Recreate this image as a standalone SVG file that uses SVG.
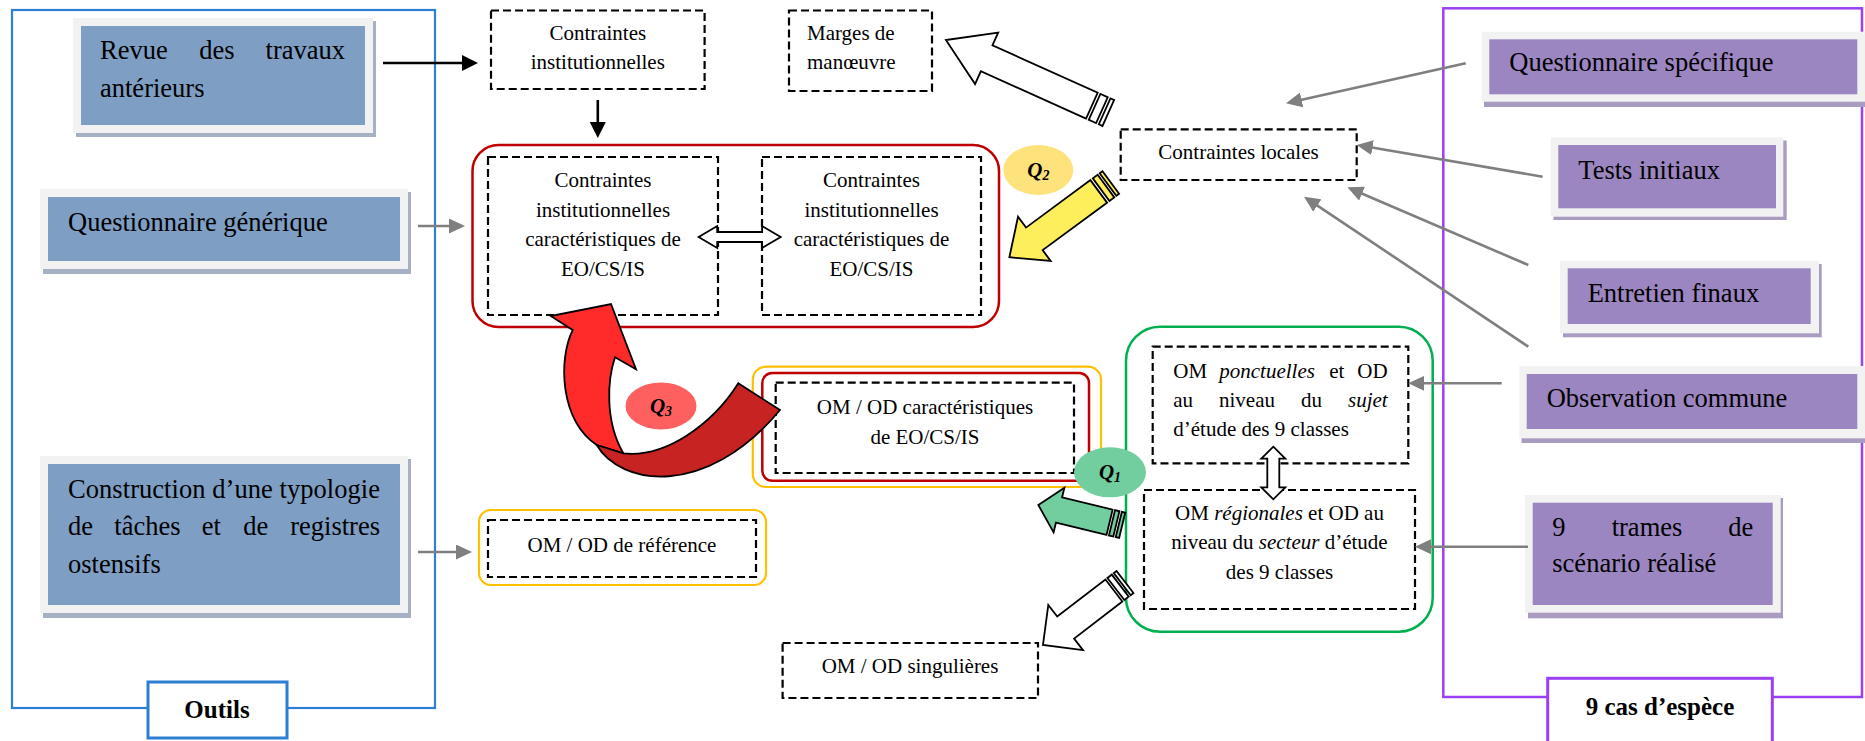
<svg xmlns="http://www.w3.org/2000/svg" width="1865" height="741" viewBox="0 0 1865 741">
<style>
.t{font-family:"Liberation Serif","Times New Roman",serif;fill:#000}
.big{font-size:26.5px}
.sm{font-size:21px}
.bold{font-weight:bold}
.q{font-family:"Liberation Serif","Times New Roman",serif;font-size:21px;font-weight:bold;font-style:italic}
.dash{fill:none;stroke:#000;stroke-width:2.2;stroke-dasharray:8 4}
.blue{fill:#7e9ec4}.purp{fill:#9c86c1}.light{fill:#f2f2f2}.bsh{fill:#a6b2c4}.psh{fill:#aa9cc0}
.ga{stroke:#7f7f7f;stroke-width:2.6;fill:none}
.ba{stroke:#000;stroke-width:2.6;fill:none}
.ol{stroke:#000;stroke-width:1.8;stroke-linejoin:miter}
</style>
<defs>
<marker id="mg" viewBox="0 0 16 15" refX="8" refY="7.5" markerWidth="16" markerHeight="15" markerUnits="userSpaceOnUse" orient="auto"><path d="M0,0 L16,7.5 L0,15 Z" fill="#7f7f7f"/></marker>
<marker id="mb" viewBox="0 0 16 16" refX="8" refY="8" markerWidth="16" markerHeight="16" markerUnits="userSpaceOnUse" orient="auto"><path d="M0,0 L16,8 L0,16 Z" fill="#000"/></marker>
</defs>

<g id="outils-frame">
<rect x="12" y="10" width="423" height="698" fill="none" stroke="#2e7ed3" stroke-width="2.2"/>
<rect x="148" y="682" width="139" height="56" fill="#fff" stroke="#2e7ed3" stroke-width="3"/>
<text class="t bold" x="217" y="718" font-size="25" text-anchor="middle">Outils</text>
</g>

<g id="cas-frame">
<rect x="1443.3" y="8.3" width="418.7" height="688.7" fill="none" stroke="#9b3ff6" stroke-width="2.5"/>
<rect x="1547.7" y="678.3" width="224.6" height="70" fill="#fff" stroke="#9b3ff6" stroke-width="3"/>
<text class="t bold" x="1660" y="715" font-size="25" text-anchor="middle">9 cas d’espèce</text>
</g>

<g id="revue">
<rect class="bsh" x="76" y="21" width="300" height="116"/>
<rect class="light" x="73" y="18" width="300" height="115"/>
<rect class="blue" x="81" y="26" width="284" height="99"/>
<text class="t big" y="59"><tspan x="100">Revue</tspan><tspan x="199.3">des</tspan></text>
<text class="t big" x="345" y="59" text-anchor="end">travaux</text>
<text class="t big" x="100" y="97">antérieurs</text>
</g>

<g id="quest-generique">
<rect class="bsh" x="43" y="192" width="368" height="82"/>
<rect class="light" x="40" y="189" width="368" height="80"/>
<rect class="blue" x="48" y="197" width="352" height="64"/>
<text class="t big" x="68" y="231">Questionnaire générique</text>
</g>

<g id="construction">
<rect class="bsh" x="43" y="459" width="368" height="159"/>
<rect class="light" x="40" y="456" width="368" height="157"/>
<rect class="blue" x="48" y="464" width="352" height="141"/>
<text class="t big" x="68" y="498" textLength="312" lengthAdjust="spacing">Construction d’une typologie</text>
<text class="t big" y="535"><tspan x="68">de</tspan><tspan x="114.3">tâches</tspan><tspan x="201.7">et</tspan><tspan x="243.3">de</tspan></text>
<text class="t big" x="380" y="535" text-anchor="end">registres</text>
<text class="t big" x="68" y="573">ostensifs</text>
</g>

<g id="quest-specifique">
<rect class="psh" x="1484" y="35" width="384" height="72"/>
<rect class="light" x="1481.7" y="31.7" width="384" height="70"/>
<rect class="purp" x="1489.3" y="39.3" width="368" height="55"/>
<text class="t big" x="1509.3" y="71">Questionnaire spécifique</text>
</g>

<g id="tests-initiaux">
<rect class="psh" x="1553.5" y="140.5" width="233.2" height="79.5"/>
<rect class="light" x="1550.7" y="137.3" width="232.6" height="79.4"/>
<rect class="purp" x="1558.3" y="145" width="217.7" height="63.3"/>
<text class="t big" x="1578.3" y="179">Tests initiaux</text>
</g>

<g id="entretien-finaux">
<rect class="psh" x="1563" y="264" width="258.7" height="73.3"/>
<rect class="light" x="1560" y="260.7" width="259" height="72.6"/>
<rect class="purp" x="1567.7" y="268.3" width="243" height="55.7"/>
<text class="t big" x="1587.7" y="302">Entretien finaux</text>
</g>

<g id="observation-commune">
<rect class="psh" x="1521.5" y="370" width="346" height="73"/>
<rect class="light" x="1519.3" y="366" width="346" height="72.3"/>
<rect class="purp" x="1526.7" y="374" width="330.6" height="55"/>
<text class="t big" x="1546.7" y="407">Observation commune</text>
</g>

<g id="trames">
<rect class="psh" x="1528" y="498" width="255" height="120.3"/>
<rect class="light" x="1525" y="495" width="255.7" height="117.7"/>
<rect class="purp" x="1532.7" y="502.7" width="240" height="102.3"/>
<text class="t big" y="536"><tspan x="1552.3">9</tspan><tspan x="1611.7">trames</tspan></text>
<text class="t big" x="1753.3" y="536" text-anchor="end">de</text>
<text class="t big" x="1552.3" y="572.3">scénario réalisé</text>
</g>

<g id="contraintes-institutionnelles">
<rect class="dash" x="491" y="10.5" width="213.6" height="78.5"/>
<text class="t sm" x="597.8" y="40" text-anchor="middle">Contraintes</text>
<text class="t sm" x="597.8" y="69.3" text-anchor="middle">institutionnelles</text>
</g>

<g id="marges">
<rect class="dash" x="789" y="10.5" width="143" height="80.5"/>
<text class="t sm" x="807" y="40">Marges de</text>
<text class="t sm" x="807" y="69.3">manœuvre</text>
</g>

<g id="contraintes-locales">
<rect class="dash" x="1120.7" y="129.3" width="236" height="50.7"/>
<text class="t sm" x="1238.5" y="159.3" text-anchor="middle">Contraintes locales</text>
</g>

<g id="contraintes-caract">
<rect x="472.5" y="145" width="526.5" height="182" rx="26" fill="none" stroke="#c00000" stroke-width="2.5"/>
<rect class="dash" x="488" y="157" width="230" height="158"/>
<rect class="dash" x="762" y="157" width="219" height="158"/>
<g class="t sm" text-anchor="middle">
<text x="603" y="187.3">Contraintes</text>
<text x="603" y="216.7">institutionnelles</text>
<text x="603" y="246">caractéristiques de</text>
<text x="603" y="276">EO/CS/IS</text>
<text x="871.5" y="187.3">Contraintes</text>
<text x="871.5" y="216.7">institutionnelles</text>
<text x="871.5" y="246">caractéristiques de</text>
<text x="871.5" y="276">EO/CS/IS</text>
</g>
<path d="M698.6,237 L717.2,226 L717.2,232 L762.1,232 L762.1,226 L780.7,237 L762.1,248 L762.1,242 L717.2,242 L717.2,248 Z" fill="#fff" class="ol"/>
</g>

<g id="om-od-caract">
<rect x="752.8" y="366.7" width="348.2" height="120.3" rx="13" fill="none" stroke="#ffc000" stroke-width="2.2"/>
<rect x="762.3" y="373" width="326.7" height="107.7" rx="10" fill="none" stroke="#c00000" stroke-width="2.5"/>
<rect class="dash" x="775.7" y="382.7" width="298.3" height="90.3"/>
<text class="t sm" x="925" y="414" text-anchor="middle">OM / OD caractéristiques</text>
<text class="t sm" x="925" y="444" text-anchor="middle">de EO/CS/IS</text>
</g>

<g id="om-od-reference">
<rect x="479" y="510" width="287" height="75" rx="12" fill="none" stroke="#ffc000" stroke-width="2.2"/>
<rect class="dash" x="488" y="520" width="268" height="57"/>
<text class="t sm" x="622" y="551.7" text-anchor="middle">OM / OD de référence</text>
</g>

<g id="om-od-singulieres">
<rect class="dash" x="782.6" y="643" width="255.4" height="55"/>
<text class="t sm" x="910" y="673.3" text-anchor="middle">OM / OD singulières</text>
</g>

<g id="om-od-locales">
<rect x="1126" y="326.7" width="306.7" height="305" rx="34" fill="none" stroke="#00b050" stroke-width="2.5"/>
<rect class="dash" x="1152.7" y="346.7" width="255.6" height="116.6"/>
<g class="t sm">
<text y="377.7"><tspan x="1173.3">OM</tspan><tspan x="1219.3" font-style="italic">ponctuelles</tspan><tspan x="1329.3">et</tspan></text>
<text x="1387.7" y="377.7" text-anchor="end">OD</text>
<text y="406.7"><tspan x="1173.3">au</tspan><tspan x="1219">niveau</tspan><tspan x="1301">du</tspan></text>
<text x="1387.7" y="406.7" text-anchor="end" font-style="italic">sujet</text>
<text x="1173.3" y="436">d’étude des 9 classes</text>
</g>
<rect class="dash" x="1144" y="490" width="271" height="119"/>
<g class="t sm" text-anchor="middle">
<text x="1279.5" y="520">OM <tspan font-style="italic">régionales</tspan> et OD au</text>
<text x="1279.5" y="549">niveau du <tspan font-style="italic">secteur</tspan> d’étude</text>
<text x="1279.5" y="579">des 9 classes</text>
</g>
<path d="M1273.3,446.7 L1285.3,458.7 L1279.3,458.7 L1279.3,487.3 L1285.3,487.3 L1273.3,499.3 L1261.3,487.3 L1267.3,487.3 L1267.3,458.7 L1261.3,458.7 Z" fill="#fff" class="ol"/>
</g>

<g id="connectors">
<line class="ba" x1="383" y1="63" x2="470" y2="63" marker-end="url(#mb)"/>
<line class="ba" x1="597.8" y1="100" x2="597.8" y2="130" marker-end="url(#mb)"/>
<line class="ga" x1="418" y1="226" x2="457" y2="226" marker-end="url(#mg)"/>
<line class="ga" x1="418" y1="552" x2="464" y2="552" marker-end="url(#mg)"/>
<line class="ga" x1="1465.7" y1="63.3" x2="1293.8" y2="101.6" marker-end="url(#mg)"/>
<line class="ga" x1="1542.7" y1="176.7" x2="1364.6" y2="146.3" marker-end="url(#mg)"/>
<line class="ga" x1="1528.3" y1="265" x2="1354.7" y2="190.5" marker-end="url(#mg)"/>
<line class="ga" x1="1528.3" y1="346.7" x2="1310.7" y2="201.1" marker-end="url(#mg)"/>
<line class="ga" x1="1501.7" y1="383.3" x2="1416.3" y2="383.3" marker-end="url(#mg)"/>
<line class="ga" x1="1528" y1="546.7" x2="1423" y2="546.7" marker-end="url(#mg)"/>

<g id="arrow-marges" transform="translate(1108.3,113) rotate(-155.8)" fill="#fff" class="ol">
<rect x="0" y="-14.2" width="4" height="28.4"/>
<rect x="7" y="-14.2" width="8" height="28.4"/>
<path d="M18,-14.2 H133.4 V-28.2 L178,0 L133.4,28.2 V14.2 H18 Z"/>
</g>
<g id="arrow-q2" transform="translate(1110.8,182.5) rotate(143.6)" fill="#fdee5c" class="ol">
<rect x="0" y="-14" width="3.5" height="28"/>
<rect x="6" y="-14" width="6" height="28"/>
<path d="M15,-14 H95 V-27.5 L126,0 L95,27.5 V14 H15 Z"/>
</g>
<g id="arrow-q1" transform="translate(1122.2,525.3) rotate(-166.4)" fill="#72cd9f" class="ol">
<rect x="0" y="-13" width="3.5" height="26"/>
<rect x="6" y="-13" width="4.5" height="26"/>
<path d="M13,-13 H65 V-23 L86.3,0 L65,23 V13 H13 Z"/>
</g>
<g id="arrow-singulieres" transform="translate(1125,582) rotate(142.5)" fill="#fff" class="ol">
<rect x="0" y="-13.9" width="3.5" height="27.8"/>
<rect x="6" y="-13.9" width="5.5" height="27.8"/>
<path d="M14,-13.9 H74.8 V-28.5 L103.4,0 L74.8,28.5 V13.9 H14 Z"/>
</g>
<g id="arrow-q3" class="ol">
<path d="M572.7,330 L550.7,316 L611,304 L636,369.3 L615,357.3 C608,378 604,420 623.3,453.3 L596.7,445 C560,420 558,360 572.7,330 Z" fill="#ff2b2b"/>
<path d="M596.7,445 C620,485 705,500 780,410 L738.3,383.3 C712,425 665,458 623.3,453.3 Z" fill="#c82323"/>
</g>
</g>

<g id="q-labels">
<ellipse cx="1038.3" cy="170" rx="35" ry="25" fill="#fee27c"/>
<text class="q" x="1038.3" y="177" text-anchor="middle">Q<tspan font-size="14" dy="3">2</tspan></text>
<ellipse cx="661" cy="406" rx="35.5" ry="23.5" fill="#fe5f5f"/>
<text class="q" x="661" y="413" text-anchor="middle">Q<tspan font-size="14" dy="3">3</tspan></text>
<ellipse cx="1110" cy="472.3" rx="36" ry="25" fill="#72cd9f"/>
<text class="q" x="1110" y="479" text-anchor="middle">Q<tspan font-size="14" dy="3">1</tspan></text>
</g>
</svg>
